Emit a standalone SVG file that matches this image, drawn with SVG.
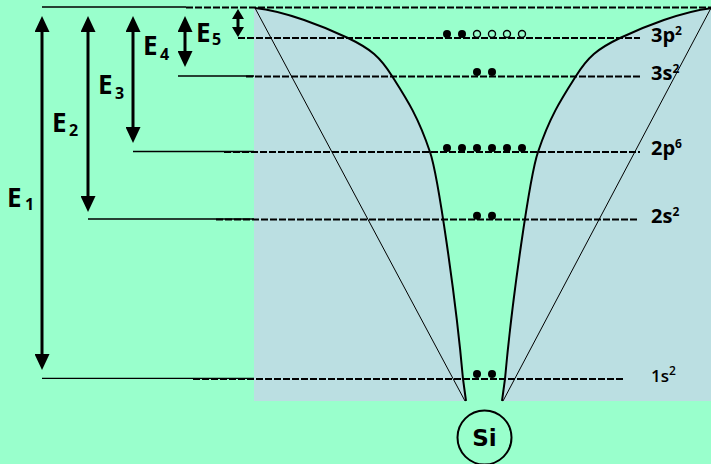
<svg xmlns="http://www.w3.org/2000/svg" width="711" height="464" viewBox="0 0 711 464">
<defs>
<style>
.solid{stroke:#000;stroke-width:1.3;fill:none}
.dash{stroke:#000;stroke-width:1.8;stroke-dasharray:7 2;fill:none}
.arr{stroke:#000;stroke-width:3;fill:none}
.thin{stroke:#000;stroke-width:1;fill:none}
.curve{stroke:#000;stroke-width:2;fill:none}
.e{fill:#000;stroke:none}
.h{fill:none;stroke:#000;stroke-width:1.4}
.lab{font-family:"Open Sans","DejaVu Sans",sans-serif;font-weight:bold;font-size:26px;fill:#000}
.lab tspan{font-size:16px}
.lvl{font-family:"Open Sans","DejaVu Sans",sans-serif;font-weight:bold;font-size:20px;fill:#000}
.lvl tspan{font-size:12px}
</style>
<marker id="ah" viewBox="0 0 16 15" refX="3" refY="7.5" markerWidth="16" markerHeight="15" markerUnits="userSpaceOnUse" orient="auto-start-reverse"><path d="M0,0L16,7.5L0,15z" fill="#000"/></marker>
<marker id="ahs" viewBox="0 0 10 12" refX="2" refY="6" markerWidth="10" markerHeight="12" markerUnits="userSpaceOnUse" orient="auto-start-reverse"><path d="M0,0L10,6L0,12z" fill="#000"/></marker>
<path id="lc" d="M255,8 C285,11 325,27 348,38 C371,49 380,57 392,76 C406,98 418,116 430,152 C438,175 456,300 463,379 L466,401"/>
</defs>
<rect x="0" y="0" width="711" height="464" fill="#99FFCC"/>
<rect x="254" y="8" width="457" height="393" fill="#BBDFE2"/>
<g id="well">
<path d="M255,8 C285,11 325,27 348,38 C371,49 380,57 392,76 C406,98 418,116 430,152 C438,175 456,300 463,379 L466,401 L502,401 L505,379 C512,300 530,175 538,152 C550,116 562,98 576,76 C588,57 597,49 620,38 C643,27 683,11 713,8 Z" fill="#99FFCC"/>
<use href="#lc" class="curve"/>
<use href="#lc" class="curve" transform="matrix(-1,0,0,1,968,0)"/>
<line class="thin" x1="255" y1="8" x2="465" y2="401"/>
<line class="thin" x1="711" y1="8" x2="503" y2="401"/>
</g>
<g id="levels">
<line class="solid" x1="42" y1="7" x2="186" y2="7"/>
<line class="dash" x1="186" y1="7.5" x2="711" y2="7.5"/>
<line class="dash" x1="238" y1="38" x2="640" y2="38"/>
<line class="solid" x1="178" y1="76" x2="254" y2="76"/>
<line class="dash" x1="246" y1="76.5" x2="640" y2="76.5"/>
<line class="solid" x1="133" y1="151.5" x2="254" y2="151.5"/>
<line class="dash" x1="224" y1="152" x2="640" y2="152"/>
<line class="solid" x1="88" y1="219" x2="254" y2="219"/>
<line class="dash" x1="216" y1="219.5" x2="639" y2="219.5"/>
<line class="solid" x1="42" y1="378.3" x2="254" y2="378.3"/>
<line class="dash" x1="193" y1="379" x2="625" y2="379"/>
</g>
<g id="arrows">
<line class="arr" x1="42" y1="29" x2="42" y2="357" marker-start="url(#ah)" marker-end="url(#ah)"/>
<line class="arr" x1="88" y1="29" x2="88" y2="199" marker-start="url(#ah)" marker-end="url(#ah)"/>
<line class="arr" x1="133" y1="29" x2="133" y2="130" marker-start="url(#ah)" marker-end="url(#ah)"/>
<line class="arr" x1="185" y1="29" x2="185" y2="54" marker-start="url(#ah)" marker-end="url(#ah)"/>
<line class="arr" x1="238" y1="17" x2="238" y2="29" stroke-width="2.5" marker-start="url(#ahs)" marker-end="url(#ahs)"/>
</g>
<g id="energy-labels">
<text class="lab" x="7" y="207">E<tspan x="25" y="210">1</tspan></text>
<text class="lab" x="52" y="132">E<tspan x="69" y="136">2</tspan></text>
<text class="lab" x="98" y="94">E<tspan x="115" y="99">3</tspan></text>
<text class="lab" x="143" y="55">E<tspan x="160" y="60">4</tspan></text>
<text class="lab" x="196" y="42">E<tspan x="212" y="45">5</tspan></text>
</g>
<g id="level-labels">
<text class="lvl" x="651" y="42">3p<tspan dy="-7">2</tspan></text>
<text class="lvl" x="651" y="80">3s<tspan dy="-7">2</tspan></text>
<text class="lvl" x="651" y="155">2p<tspan dy="-7">6</tspan></text>
<text class="lvl" x="651" y="223">2s<tspan dy="-7">2</tspan></text>
<text class="lvl" x="651" y="382" style="font-size:17px;font-weight:600">1s<tspan dy="-7">2</tspan></text>
</g>
<g id="electrons">
<circle class="e" cx="447" cy="34" r="4"/><circle class="e" cx="462" cy="34" r="4"/>
<circle class="h" cx="477" cy="34" r="3.5"/><circle class="h" cx="492" cy="34" r="3.5"/><circle class="h" cx="507" cy="34" r="3.5"/><circle class="h" cx="522" cy="34" r="3.5"/>
<circle class="e" cx="477" cy="72" r="4"/><circle class="e" cx="492" cy="72" r="4"/>
<circle class="e" cx="447" cy="148" r="4"/><circle class="e" cx="462" cy="148" r="4"/><circle class="e" cx="477" cy="148" r="4"/><circle class="e" cx="492" cy="148" r="4"/><circle class="e" cx="507" cy="148" r="4"/><circle class="e" cx="522" cy="148" r="4"/>
<circle class="e" cx="477" cy="215.7" r="4"/><circle class="e" cx="492" cy="215.7" r="4"/>
<circle class="e" cx="477" cy="374" r="4"/><circle class="e" cx="492" cy="374" r="4"/>
</g>
<g id="si">
<circle cx="484.5" cy="437.5" r="27" fill="none" stroke="#000" stroke-width="2"/>
<text x="484.5" y="446" text-anchor="middle" font-family="DejaVu Sans, sans-serif" font-weight="bold" font-size="23" fill="#000">Si</text>
</g>
</svg>
